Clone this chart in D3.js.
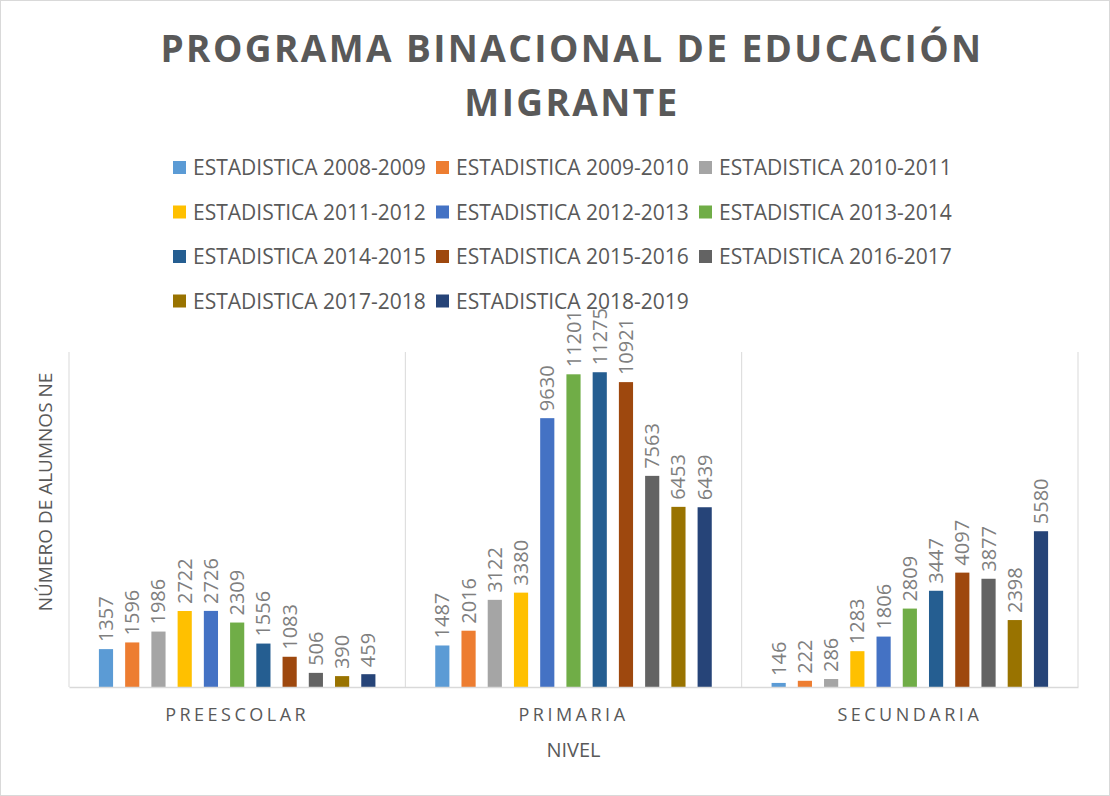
<!DOCTYPE html>
<html>
<head>
<meta charset="utf-8">
<script src="https://d3js.org/d3.v7.min.js"></script>
<style>
  body { margin: 0; background: #fff; }
  text { font-family: "Open Sans", "Noto Sans", sans-serif; }
</style>
</head>
<body>
<script>
// --- data ---
var niveles = ["PREESCOLAR", "PRIMARIA", "SECUNDARIA"];
var series = ["ESTADISTICA 2008-2009", "ESTADISTICA 2009-2010", "ESTADISTICA 2010-2011",
              "ESTADISTICA 2011-2012", "ESTADISTICA 2012-2013", "ESTADISTICA 2013-2014",
              "ESTADISTICA 2014-2015", "ESTADISTICA 2015-2016", "ESTADISTICA 2016-2017",
              "ESTADISTICA 2017-2018", "ESTADISTICA 2018-2019"];
var preescolar = [1357, 1596, 1986, 2722, 2726, 2309, 1556, 1083, 506, 390, 459];
var primaria   = [1487, 2016, 3122, 3380, 9630, 11201, 11275, 10921, 7563, 6453, 6439];
var secundaria = [146, 222, 286, 1283, 1806, 2809, 3447, 4097, 3877, 2398, 5580];
var yMax = 12000;

var colors = ["#5B9BD5", "#ED7D31", "#A5A5A5", "#FFC000", "#4472C4", "#70AD47",
              "#255E91", "#9E480E", "#636363", "#997300", "#264478"];

var valores = [preescolar, primaria, secundaria];

var width = 1110, height = 796;
var plot = { left: 69, right: 1078, top: 352, bottom: 687 };

var svg = d3.select("body").append("svg")
    .attr("width", width)
    .attr("height", height);

// chart border
svg.append("rect")
    .attr("x", 0.5).attr("y", 0.5)
    .attr("width", width - 1).attr("height", height - 1)
    .attr("fill", "#fff")
    .attr("stroke", "#d9d9d9");

// title
var title = svg.append("text")
    .attr("text-anchor", "middle")
    .attr("fill", "#595959")
    .style("font-weight", 700)
    .style("font-size", "37px")
    .style("letter-spacing", "2.4px");
title.append("tspan").attr("x", 572).attr("y", 62).text("PROGRAMA BINACIONAL DE EDUCACIÓN");
title.append("tspan").attr("x", 572).attr("y", 116).text("MIGRANTE");

// legend
var legend = svg.append("g");
var legendItem = legend.selectAll("g")
    .data(series)
    .enter().append("g")
    .attr("transform", function(d, i) {
        return "translate(" + (173 + (i % 3) * 263) + "," + (167 + Math.floor(i / 3) * 44.5) + ")";
    });
legendItem.append("rect")
    .attr("x", 0).attr("y", -6)
    .attr("width", 13).attr("height", 13)
    .attr("fill", function(d, i) { return colors[i]; });
legendItem.append("text")
    .attr("x", 20).attr("y", 1)
    .attr("dy", "0.35em")
    .attr("fill", "#595959")
    .style("font-size", "21px")
    .text(function(d) { return d; });

// scales
var x0 = d3.scaleBand().domain(niveles).range([plot.left, plot.right]);
var x1 = d3.scaleBand().domain(d3.range(series.length))
    .range([0, x0.bandwidth()])
    .paddingInner(0.46)
    .paddingOuter(1.14);
var y = d3.scaleLinear().domain([0, yMax]).range([plot.bottom, plot.top]);

// category separators
svg.append("g").selectAll("line")
    .data([plot.left].concat(niveles.map(function(n) { return x0(n) + x0.bandwidth(); })))
    .enter().append("line")
    .attr("x1", function(d) { return d; }).attr("x2", function(d) { return d; })
    .attr("y1", plot.top).attr("y2", plot.bottom)
    .attr("stroke", "#d9d9d9").attr("stroke-width", 1);

// bars
var groups = svg.append("g").selectAll("g")
    .data(niveles)
    .enter().append("g")
    .attr("transform", function(d) { return "translate(" + x0(d) + ",0)"; });

groups.selectAll("rect")
    .data(function(d, i) { return valores[i]; })
    .enter().append("rect")
    .attr("x", function(d, j) { return x1(j); })
    .attr("y", function(d) { return y(d); })
    .attr("width", x1.bandwidth())
    .attr("height", function(d) { return plot.bottom - y(d); })
    .attr("fill", function(d, j) { return colors[j]; });

groups.selectAll("text")
    .data(function(d, i) { return valores[i]; })
    .enter().append("text")
    .attr("transform", function(d, j) {
        return "translate(" + (x1(j) + x1.bandwidth() / 2) + "," + (y(d) - 7) + ") rotate(-90)";
    })
    .attr("dy", "0.35em")
    .attr("fill", "#7f7f7f")
    .style("font-size", "20px")
    .text(function(d) { return d; });

// baseline axis
var xAxis = svg.append("g")
    .attr("transform", "translate(0," + plot.bottom + ")")
    .call(d3.axisBottom(x0).tickSize(0).tickPadding(21));
xAxis.select(".domain").attr("stroke", "#d9d9d9").attr("stroke-width", 1.5);
xAxis.selectAll("text")
    .attr("fill", "#595959")
    .style("font-family", "'Open Sans', sans-serif")
    .style("font-size", "18px")
    .style("letter-spacing", "3.5px");

// axis titles
svg.append("text")
    .attr("x", (plot.left + plot.right) / 2)
    .attr("y", 757)
    .attr("text-anchor", "middle")
    .attr("fill", "#595959")
    .style("font-size", "20px")
    .text("NIVEL");

svg.append("text")
    .attr("transform", "translate(52,492) rotate(-90)")
    .attr("text-anchor", "middle")
    .attr("fill", "#595959")
    .style("font-size", "19px")
    .text("NÚMERO DE ALUMNOS NE");
</script>
</body>
</html>
